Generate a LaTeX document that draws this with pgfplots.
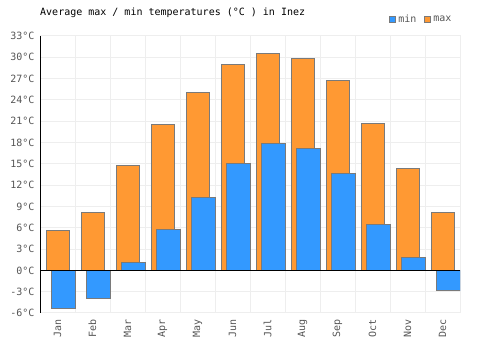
\documentclass[border=0pt]{standalone}
\usepackage{pgfplots}
\pgfplotsset{compat=1.18}
\usepackage{fontspec}
\setmainfont{DejaVu Sans Mono}
\definecolor{cmax}{HTML}{FF9933}
\definecolor{cmin}{HTML}{3399FF}
\definecolor{cedge}{HTML}{7A7A7A}
\definecolor{cgrid}{HTML}{EEEEEE}
\definecolor{ctext}{HTML}{555555}
\pgfplotstableread{
x max min
0 5.6 -5.4
1 8.2 -4.0
2 14.7 1.1
3 20.5 5.8
4 25.0 10.3
5 29.0 15.1
6 30.5 17.8
7 29.9 17.2
8 26.8 13.7
9 20.7 6.5
10 14.4 1.8
11 8.2 -2.9
}\datatable
\begin{document}
\begin{tikzpicture}[x=1pt,y=1pt]
\useasboundingbox (0,0) rectangle (500,350);
\begin{axis}[
  at={(40pt,37pt)}, anchor=south west,
  scale only axis, width=420pt, height=277pt,
  xmin=-0.5, xmax=11.5, ymin=-6, ymax=33,
  ytick={-6,-3,...,33},
  xtick={0,...,11},
  xticklabels={Jan,Feb,Mar,Apr,May,Jun,Jul,Aug,Sep,Oct,Nov,Dec},
  minor xtick={-0.5,0.5,...,11.5},
  ymajorgrids, xminorgrids,
  grid style={cgrid, line width=1pt},
  minor grid style={cgrid, line width=1pt},
  axis line style={cgrid, line width=1pt},
  major tick length=0pt, minor tick length=0pt,
  tick style={draw=none},
  ticklabel style={font=\fontsize{10}{12}\selectfont, text=ctext},
  yticklabel={\pgfmathprintnumber[assume math mode=true]{\tick}°C},
  yticklabel style={xshift=-2pt},
  xticklabel style={rotate=90, anchor=east, yshift=0pt, xshift=-3pt},
  axis on top=false,
  title={Average max / min temperatures (°C ) in Inez},
  title style={at={(0,1.061)}, anchor=west, font=\fontsize{10}{12}\selectfont, text=black, inner sep=0pt},
  legend columns=2, reverse legend,
  legend style={at={(0.985,1.061)}, anchor=east, draw=none, fill=none,
    font=\fontsize{10}{12}\selectfont, text=ctext, inner sep=0pt,
    /tikz/every even column/.append style={column sep=6pt}},
  legend image code/.code={\draw[#1] (0pt,-3pt) rectangle (6pt,3pt);},
  legend cell align=left,
]
\addplot[ybar, bar width=23pt, bar shift=0pt, fill=cmax, draw=cedge, line width=1pt]
  table[x=x, y=max] {\datatable};
\addlegendentry{max}
\addplot[ybar, bar width=24.5pt, bar shift=6pt, fill=cmin, draw=cedge, line width=1pt]
  table[x=x, y=min] {\datatable};
\addlegendentry{min}
\draw[black, line width=1pt] (axis cs:-0.5,0) -- (axis cs:11.5,0);
\draw[black, line width=1pt] (rel axis cs:0,0) -- (rel axis cs:0,1);
\end{axis}
\end{tikzpicture}
\end{document}
